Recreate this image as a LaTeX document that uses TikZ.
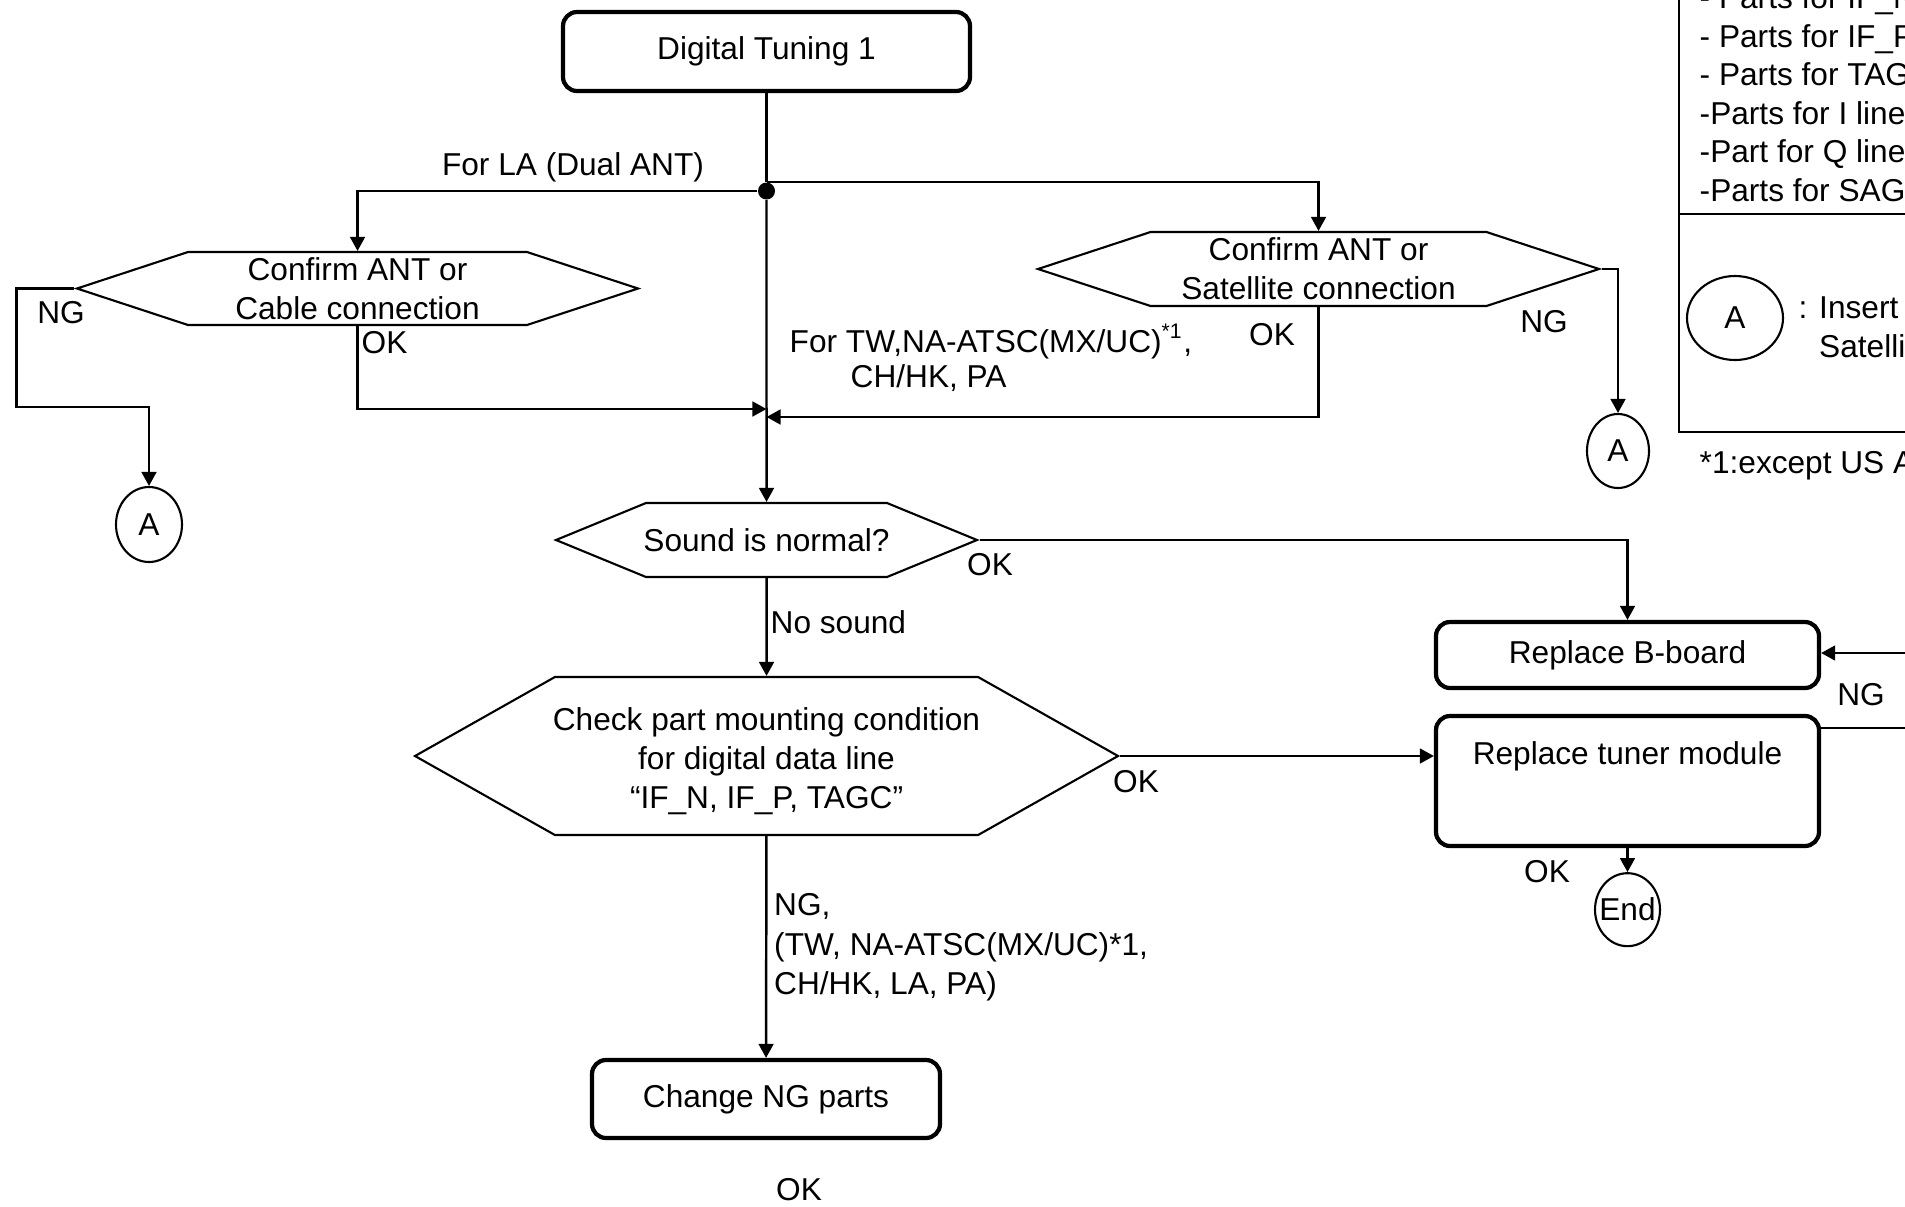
\documentclass[tikz,border=0pt]{standalone}
\usepackage{fontspec}
\setmainfont{Liberation Sans}
\usetikzlibrary{
    arrows.meta,
    positioning,
    calc,
    shapes.geometric,
    shapes.symbols
}
\tikzset{
    % --- Action box (rounded, heavy border) ---
    process/.style = {
        rectangle, draw, very thick,
        rounded corners=4pt,
        align=center, inner sep=2pt
    },
    % --- Check step (stretched hexagon) ---
    decision/.style = {
        signal, signal to=east and west, draw, semithick,
        align=center, inner xsep=-1pt, inner ysep=0pt
    },
    % --- Off-page connector / terminator ---
    connector/.style = {
        ellipse, draw, semithick, inner sep=0pt,
        minimum width=0.64cm, minimum height=0.74cm
    },
    % --- Wire junction dot ---
    dot/.style = {
        circle, fill=black,
        minimum size=0.17cm, inner sep=0pt
    },
    % --- Branch label ---
    tag/.style = {
        inner sep=1pt
    },
    % --- Flow arrow ---
    flow/.style = {
        ->, line width=0.7pt
    },
    % --- Plain wire ---
    wire/.style = {
        line width=0.7pt
    }
}

\begin{document}
\begin{tikzpicture}[
    >={Triangle[length=4pt, width=4.2pt]},
    font=\fontsize{9}{11.2}\selectfont
]

\useasboundingbox (0,0) rectangle (19.05,-12.06);
\clip (0,0) rectangle (19.05,-12.06);

% ---------------------------------------------------------
% Main column
% ---------------------------------------------------------
\node[process, minimum width=4.07cm, minimum height=0.79cm] (tune) at (7.665,-0.515) {Digital Tuning 1};
\node[dot] (split) at (7.665,-1.91) {};

\node[decision, minimum width=5.61cm, minimum height=0.73cm, signal pointer angle=36.4]
    (cable) at (3.575,-2.885) {Confirm ANT or\\Cable connection};
\node[decision, minimum width=5.61cm, minimum height=0.74cm, signal pointer angle=36.4]
    (sat) at (13.185,-2.69) {Confirm ANT or\\Satellite connection};

\node[decision, minimum width=4.21cm, minimum height=0.74cm, signal pointer angle=44.7]
    (sound) at (7.665,-5.40) {Sound is normal?};
\node[decision, minimum width=7.03cm, minimum height=1.58cm, signal pointer angle=58.9]
    (check) at (7.665,-7.56) {\rule{0pt}{0.33cm}Check part mounting condition\\for digital data line\\“IF\_N, IF\_P, TAGC”};

\node[process, minimum width=3.48cm, minimum height=0.78cm] (change) at (7.66,-10.99) {Change NG parts};

% ---------------------------------------------------------
% Replacement column
% ---------------------------------------------------------
\node[process, minimum width=3.83cm, minimum height=0.66cm] (board) at (16.275,-6.55) {Replace B-board};
\node[process, minimum width=3.83cm, minimum height=1.30cm, text depth=0.56cm] (tuner) at (16.275,-7.81) {Replace tuner module};
\node[connector, minimum width=0.65cm, minimum height=0.73cm, inner xsep=-2.5pt, below=0.24cm of tuner] (fin) {End};

% Connectors A
\node[connector, minimum width=0.66cm, minimum height=0.75cm] (aLeft) at (1.49,-5.245) {A};
\node[connector, minimum width=0.62cm, minimum height=0.74cm] (aRight) at (16.18,-4.51) {A};

% ---------------------------------------------------------
% Flow lines
% ---------------------------------------------------------
\coordinate (mergeL) at (7.665,-4.09);
\coordinate (mergeR) at (7.665,-4.17);
\coordinate (ngBend) at (0.165,-4.07);
\coordinate (loopOut) at (19.4,-7.28);
\coordinate (loopIn) at (19.4,-6.53);

\draw[wire] (tune) -- (split);
\draw[flow] (split) -- (sound);
\draw[flow] (split) -| (cable);
\draw[flow] (split.north) -| (sat);

\draw[flow] (cable) |- (mergeL);
\draw[flow] (sat) |- (mergeR);
\draw[flow] (cable.west) -| (ngBend) -| (aLeft);
\draw[flow] (sat.east) -| (aRight);

\draw[flow] (sound) -- (check);
\draw[flow] (sound.east) -| (board);
\draw[flow] (check.east) -- (check.east -| tuner.west);
\draw[flow] (check) -- (change);
\draw[flow] (tuner) -- (fin);
\draw[flow] (tuner.east |- loopOut) -- (loopOut) -- (loopIn) -- (board.east |- loopIn);

% ---------------------------------------------------------
% Branch labels
% ---------------------------------------------------------
\node[tag] (laNote) at (5.73,-1.675) {For LA (Dual ANT)};
\node[tag, anchor=west, align=left] (twNote) at (7.855,-3.58) {For TW,NA-ATSC(MX/UC)\textsuperscript{*1},\\[-1pt]\hspace*{0.61cm}CH/HK, PA};

\node[tag] (ngCable) at (0.61,-3.13) {NG};
\node[tag, anchor=west] (okCable) at (3.575,-3.43) {OK};
\node[tag] (okSat) at (12.72,-3.35) {OK};
\node[tag] (ngSat) at (15.44,-3.22) {NG};

\node[tag] (okSound) at (9.90,-5.65) {OK};
\node[tag, anchor=west] (noSound) at (7.665,-6.22) {No sound};
\node[tag] (okCheck) at (11.36,-7.82) {OK};
\node[tag, anchor=west, align=left] (ngCheck) at (7.70,-9.475) {NG,\\(TW, NA-ATSC(MX/UC)*1,\\CH/HK, LA, PA)};
\node[tag] (okChange) at (7.99,-11.90) {OK};

\node[tag] (ngLoop) at (18.61,-6.95) {NG};
\node[tag] (okTuner) at (15.47,-8.72) {OK};

% ---------------------------------------------------------
% Legend (cut by the right edge)
% ---------------------------------------------------------
\draw[thick] (16.79,0.3) rectangle (19.6,-4.32);
\draw[thick] (16.79,-2.14) -- (19.6,-2.14);

\foreach \i/\txt in {0/{- Parts for IF\_N}, 1/{- Parts for IF\_P}, 2/{- Parts for TAG},
                     3/{-Parts for I line}, 4/{-Part for Q line}, 5/{-Parts for SAG}}
    \node[tag, anchor=base west] (part\i) at (16.955,-0.088-0.385*\i) {\txt};

\node[connector, minimum width=0.96cm, minimum height=0.84cm] (legA) at (17.35,-3.18) {A};
\node[tag, anchor=west, align=left] (legText) at (17.945,-3.27) {: Insert\\\phantom{: }Satellite};

\node[tag, anchor=base west] (footNote) at (16.955,-4.73) {*1:except US A};

\end{tikzpicture}
\end{document}
